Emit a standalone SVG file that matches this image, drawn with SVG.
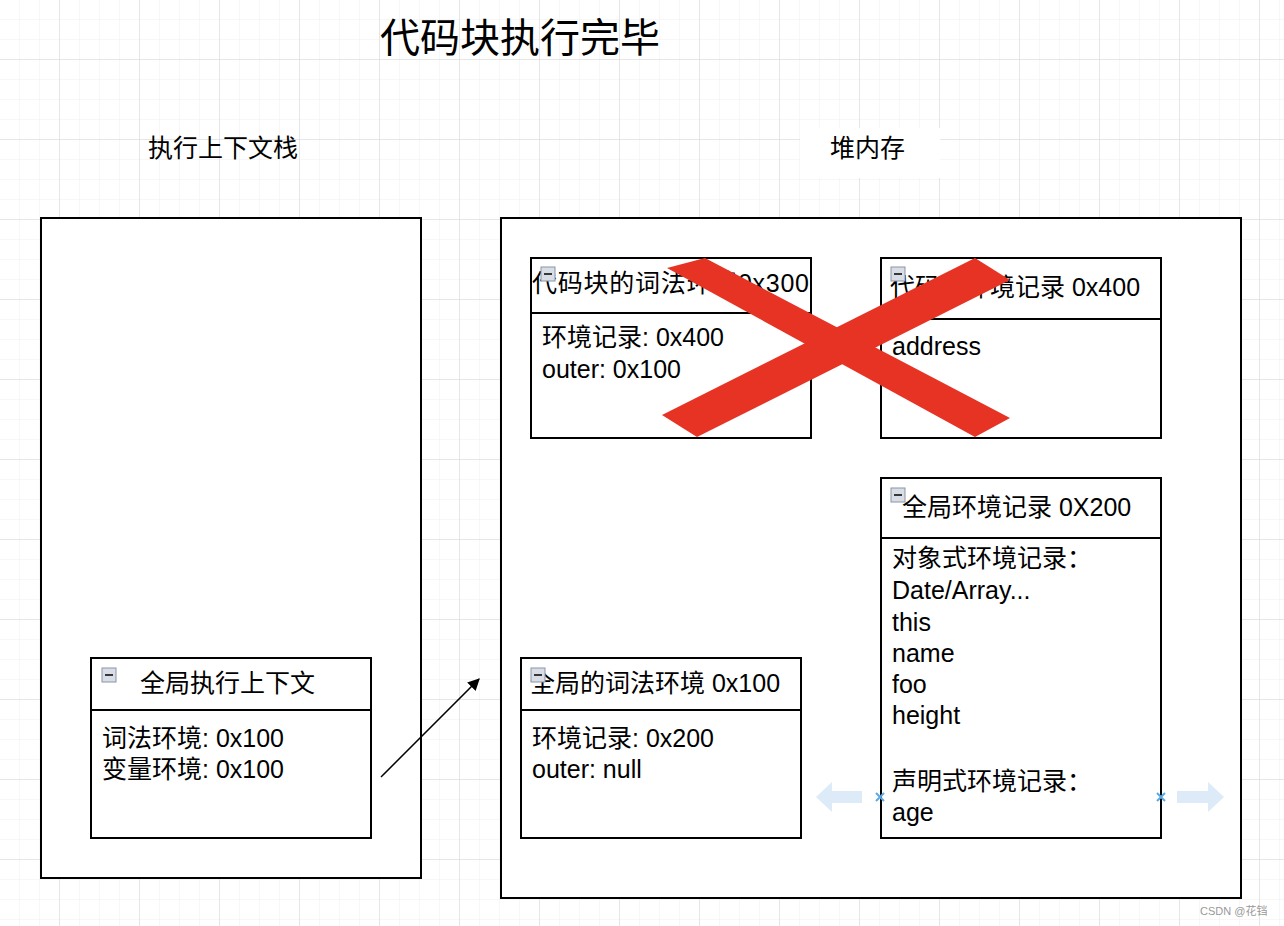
<svg xmlns="http://www.w3.org/2000/svg" width="1284" height="926" viewBox="0 0 1284 926">
<defs>
<pattern id="minor" width="20" height="20" patternUnits="userSpaceOnUse"><path d="M20 0V20M0 20H20" fill="none" stroke="#efefef" stroke-width="1"/></pattern>
<pattern id="major" x="-20" y="-20" width="80" height="80" patternUnits="userSpaceOnUse"><rect width="80" height="80" fill="url(#minor)"/><path d="M80 0V80M0 80H80" fill="none" stroke="#d6d6d6" stroke-width="1"/></pattern>
<marker id="arr" viewBox="0 0 10 10" refX="9" refY="5" markerWidth="8" markerHeight="8" orient="auto"><path d="M0 0L10 5L0 10z" fill="#000"/></marker>
<g id="ico"><rect x="0" y="0" width="14" height="14" fill="#d8dde6" stroke="#8a94a6"/><path d="M3 7H11" stroke="#000" stroke-width="1.5"/></g>
</defs>
<style>
.b{fill:#fff;stroke:#000;stroke-width:2}
.t{font-family:"Liberation Sans","Noto Sans CJK SC",sans-serif;font-size:25px;fill:#000}
</style>
<rect width="1284" height="926" fill="#fff"/>
<rect width="1284" height="926" fill="url(#major)"/>
<text class="t" x="380" y="52" style="font-size:40px">代码块执行完毕</text>
<rect x="800" y="128" width="140" height="50" fill="#fff"/>
<text class="t" x="148" y="157">执行上下文栈</text>
<text class="t" x="830" y="157">堆内存</text>
<g id="stack"><rect class="b" x="41" y="218" width="380" height="660"/></g>
<g id="heap"><rect class="b" x="501" y="218" width="740" height="680"/></g>
<g id="gctx"><rect class="b" x="91" y="658" width="280" height="180"/><line x1="91" y1="710" x2="371" y2="710" stroke="#000" stroke-width="2"/><use href="#ico" x="102" y="668"/>
<text class="t" x="140" y="692">全局执行上下文</text><text class="t" x="102" y="747">词法环境: 0x100</text><text class="t" x="102" y="778">变量环境: 0x100</text></g>
<g id="blex"><rect class="b" x="531" y="258" width="280" height="180"/><line x1="531" y1="313" x2="811" y2="313" stroke="#000" stroke-width="2"/>
<text class="t" x="532" y="292" textLength="277">代码块的词法环境0x300</text><use href="#ico" x="541" y="267"/><text class="t" x="542" y="346">环境记录: 0x400</text><text class="t" x="542" y="378">outer: 0x100</text></g>
<g id="benv"><rect class="b" x="881" y="258" width="280" height="180"/><line x1="881" y1="319" x2="1161" y2="319" stroke="#000" stroke-width="2"/>
<text class="t" x="890" y="296">代码块环境记录 0x400</text><use href="#ico" x="891" y="267"/><text class="t" x="892" y="355">address</text></g>
<g id="genv"><rect class="b" x="881" y="478" width="280" height="360"/><line x1="881" y1="538" x2="1161" y2="538" stroke="#000" stroke-width="2"/><use href="#ico" x="891" y="488"/>
<text class="t" x="902" y="516">全局环境记录 0X200</text>
<text class="t" x="892" y="567">对象式环境记录：</text><text class="t" x="892" y="599">Date/Array...</text><text class="t" x="892" y="631">this</text><text class="t" x="892" y="662">name</text><text class="t" x="892" y="693">foo</text><text class="t" x="892" y="724">height</text><text class="t" x="892" y="790">声明式环境记录：</text><text class="t" x="892" y="821">age</text></g>
<g id="glex"><rect class="b" x="521" y="658" width="280" height="180"/><line x1="521" y1="710" x2="801" y2="710" stroke="#000" stroke-width="2"/>
<text class="t" x="530" y="692">全局的词法环境 0x100</text><use href="#ico" x="531" y="668"/><text class="t" x="532" y="747">环境记录: 0x200</text><text class="t" x="532" y="778">outer: null</text></g>
<g id="cross" fill="#e63324"><polygon points="667,268 705,258 1010,418 975,437"/><polygon points="662,415 697,437 1010,280 975,258"/></g>
<g id="connectors"><line x1="381" y1="777" x2="479" y2="679" stroke="#000" stroke-width="1.5" marker-end="url(#arr)"/>
<g fill="#dcebf7"><polygon points="816,797 832,782 832,791 862,791 862,803 832,803 832,812"/><polygon points="1224,797 1208,782 1208,791 1177,791 1177,803 1208,803 1208,812"/></g>
<g stroke="#5aa9e6" stroke-width="2"><path d="M876 793L884 801M884 793L876 801M1157 793L1165 801M1165 793L1157 801"/></g></g>
<text x="1200" y="915" style="font-family:'Liberation Sans','Noto Sans CJK SC',sans-serif;font-size:11px;fill:#999">CSDN @花铛</text>
</svg>
